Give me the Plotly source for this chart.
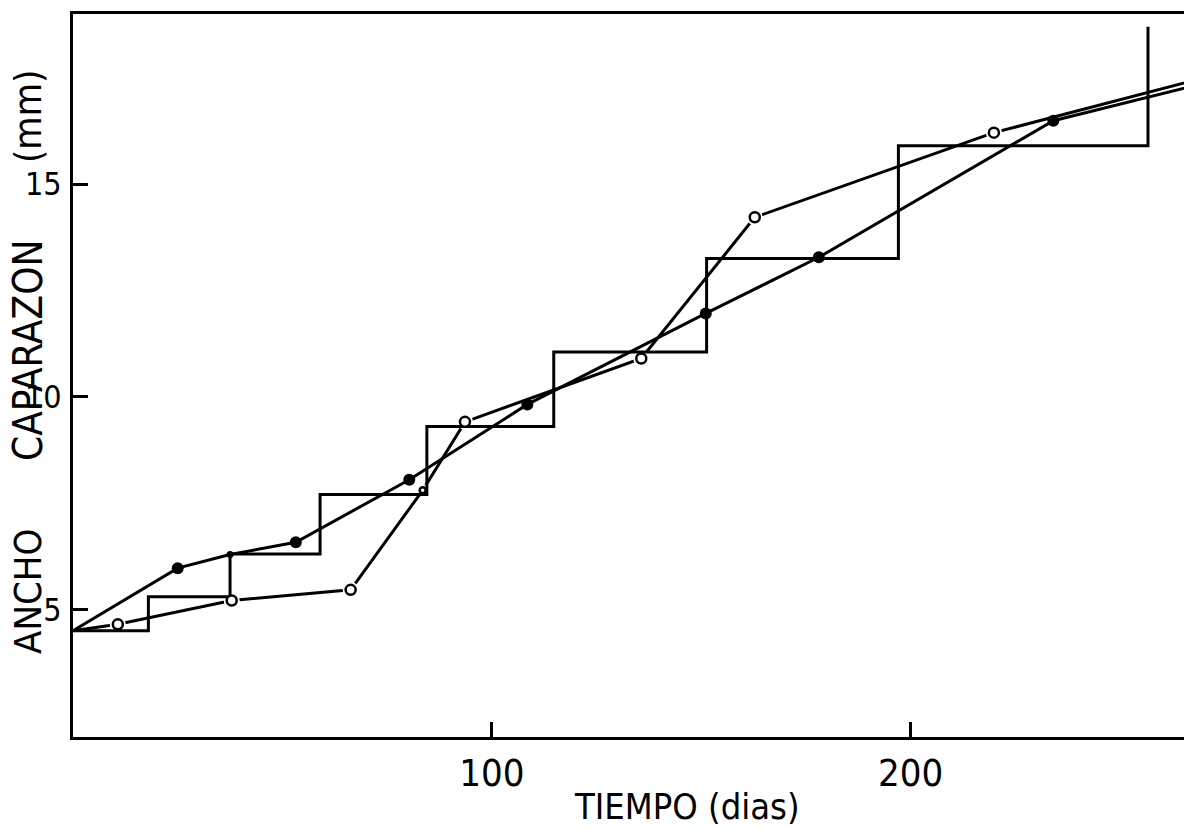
import plotly.graph_objects as go

# ---- data ----
step_edges = [0, 18, 37.5, 59, 84.5, 114.8, 151.3, 197.1, 256.7]
step_levels = [4.5, 5.3, 6.3, 7.7, 9.3, 11.05, 13.25, 15.9]
step_top = 18.7

filled_x = [0, 25.0, 37.5, 53.2, 80.3, 108.5, 151.1, 178.1, 234.1, 270]
filled_y = [4.5, 5.97, 6.29, 6.58, 8.05, 9.82, 11.96, 13.28, 16.49, 17.37]
filled_sizes = [0, 12, 7, 12, 12, 12, 12, 12, 12, 0]

open_x = [0, 10.7, 37.9, 66.3, 83.5, 93.6, 135.7, 162.8, 219.9, 270]
open_y = [4.5, 4.65, 5.21, 5.46, 7.80, 9.41, 10.90, 14.22, 16.21, 17.50]
open_sizes = [0, 10, 10, 10, 6, 10, 10, 10, 10, 0]

x_ticks = [100, 200]
y_ticks = [5, 10, 15]

FONT = "Liberation Sans Narrow, DejaVu Sans Condensed, Liberation Sans, sans-serif"
LW = 3

# staircase points
sx = list(step_edges) + [step_edges[-1]]
sy = list(step_levels) + [step_levels[-1], step_top]

fig = go.Figure()

# open-circle series line
fig.add_trace(go.Scatter(x=open_x, y=open_y, mode="lines",
                         line=dict(color="black", width=LW), showlegend=False))
# white halos to create gaps around the open circles
ox = [x for x, s in zip(open_x, open_sizes) if s]
oy = [y for y, s in zip(open_y, open_sizes) if s]
osz = [s for s in open_sizes if s]
fig.add_trace(go.Scatter(x=ox, y=oy, mode="markers",
                         marker=dict(color="white", size=[s + 6 for s in osz], line=dict(width=0),
                                     opacity=1),
                         showlegend=False))
# staircase
fig.add_trace(go.Scatter(x=sx, y=sy, mode="lines", line_shape="hv",
                         line=dict(color="black", width=LW), showlegend=False))
# filled-dot series
fig.add_trace(go.Scatter(x=filled_x, y=filled_y, mode="lines",
                         line=dict(color="black", width=LW), showlegend=False))
fx = [x for x, s in zip(filled_x, filled_sizes) if s]
fy = [y for y, s in zip(filled_y, filled_sizes) if s]
fsz = [s for s in filled_sizes if s]
fig.add_trace(go.Scatter(x=fx, y=fy, mode="markers",
                         marker=dict(color="black", size=fsz, line=dict(width=0), opacity=1),
                         showlegend=False))
# open circles
fig.add_trace(go.Scatter(x=ox, y=oy, mode="markers",
                         marker=dict(color="white", size=osz, opacity=1,
                                     line=dict(color="black", width=2.5)),
                         showlegend=False))

fig.update_layout(
    width=1184, height=830,
    margin=dict(l=73, r=0, t=14, b=93),
    plot_bgcolor="white", paper_bgcolor="white",
    showlegend=False,
    font=dict(family=FONT, color="black"),
    xaxis=dict(range=[0, 265.3], tickvals=x_ticks, ticktext=[str(v) for v in x_ticks],
               ticks="inside", ticklen=15, tickwidth=2.5, tickcolor="black",
               showline=True, linewidth=3, linecolor="black", mirror=True,
               showgrid=False, zeroline=False,
               tickfont=dict(family=FONT, size=38, color="black")),
    yaxis=dict(range=[2.0, 19.0], tickvals=y_ticks, ticktext=[str(v) for v in y_ticks],
               ticks="inside", ticklen=15, tickwidth=2.5, tickcolor="black",
               showline=True, linewidth=3, linecolor="black", mirror=False,
               showgrid=False, zeroline=False, ticklabelstandoff=2,
               tickfont=dict(family=FONT, size=32, color="black")),
)

def px_to_paper(px, py):
    return (px - 73) / 1111.0, (737 - py) / 723.0

annots = [
    ("TIEMPO (dias)", 687, 806, 0, 36),
    ("ANCHO", 28, 592, -90, 38),
    ("CAPARAZON", 28, 351, -90, 40),
    ("(mm)", 28, 117, -90, 38),
]
for text, px, py, ang, size in annots:
    ax, ay = px_to_paper(px, py)
    fig.add_annotation(text=text, x=ax, y=ay, xref="paper", yref="paper",
                       showarrow=False, textangle=ang, xanchor="center", yanchor="middle",
                       font=dict(family=FONT, size=size, color="black"))

fig.write_html("out.html", config={"displayModeBar": False},
               post_script="document.body.style.margin='0';document.body.style.padding='0';")
